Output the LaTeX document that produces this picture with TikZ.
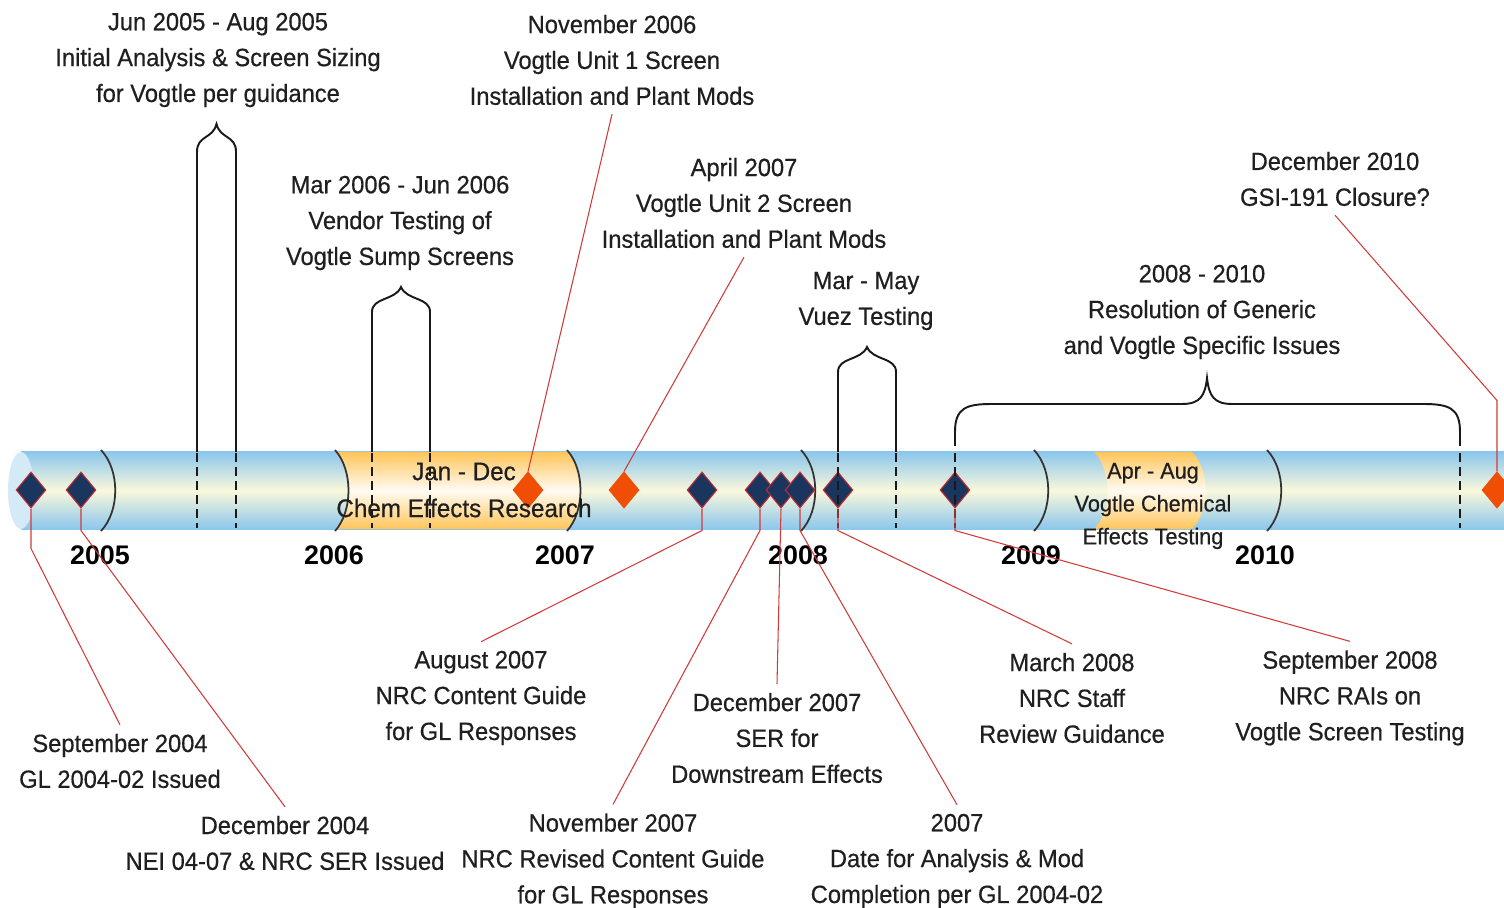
\documentclass[tikz,border=0pt]{standalone}
\usepackage{fontspec}
\setmainfont{Liberation Sans}
\newfontfamily\tagfont[FakeStretch=0.95,FakeBold=0.5]{Liberation Sans}
\usetikzlibrary{shapes.geometric}

\definecolor{barblue}{HTML}{8CC7EC}
\definecolor{barcream}{HTML}{FAF8DC}
\definecolor{barcap}{HTML}{D4EAF7}
\definecolor{chemorange}{HTML}{FFC55A}
\definecolor{chemwhite}{HTML}{FFFBF3}
\definecolor{navy}{HTML}{1B365E}
\definecolor{eventred}{HTML}{C8282E}
\definecolor{milestone}{HTML}{F04D05}
\definecolor{leadred}{HTML}{D23A3A}

\begin{document}
\begin{tikzpicture}[x=0.02cm,y=-0.02cm,
        event/.style={diamond,draw=eventred,fill=navy,line width=0.6pt,minimum width=17pt,minimum height=20.5pt,inner sep=0pt},
        goal/.style={event,fill=milestone,draw=milestone},
        lbl/.style={align=center,inner sep=5pt,text=black!88,font=\tagfont\fontsize{14.2}{20.4}\selectfont},
        yr/.style={font=\fontsize{15.3}{18}\selectfont\bfseries},
        lead/.style={draw=leadred,line width=0.6pt},
        bracket/.style={line width=1.1pt,black!90},
        cutline/.style={line width=0.9pt,black!90,dash pattern=on 5pt off 3pt},
        yrline/.style={line width=1pt,black!80}]

        \fill[white] (0,0) rectangle (1504,908);
        \useasboundingbox (0,0) rectangle (1504,908);

        \shade[top color=barblue,bottom color=barblue,middle color=barcream] (21,452) rectangle (1520,529);
        \fill[barcap] (21,490.5) ellipse [x radius=13, y radius=38.5];

        \shade[top color=chemorange,bottom color=chemorange,middle color=chemwhite] (335,452) .. controls (353,470) and (353,511) .. (335,529) -- (567,529) .. controls (585,511) and (585,470) .. (567,452) -- cycle;
        \shade[top color=chemorange,bottom color=chemorange,middle color=chemwhite] (1094,452) .. controls (1112,470) and (1112,511) .. (1094,529) -- (1192,529) .. controls (1210,511) and (1210,470) .. (1192,452) -- cycle;

        \draw[yrline] (101,450) .. controls (120,470) and (120,511) .. (101,531);
        \draw[yrline] (335,450) .. controls (353,470) and (353,511) .. (335,531);
        \draw[yrline] (567,450) .. controls (585,470) and (585,511) .. (567,531);
        \draw[yrline] (801,450) .. controls (820,470) and (820,511) .. (801,531);
        \draw[yrline] (1034,450) .. controls (1053,470) and (1053,511) .. (1034,531);
        \draw[yrline] (1267,450) .. controls (1286,470) and (1286,511) .. (1267,531);

        \draw[bracket] (197,452) -- (197,152) .. controls (197,135) and (212.6,139.4) .. (216.5,124) .. controls (220.4,139.4) and (236,135) .. (236,152) -- (236,452);
        \draw[bracket] (372,452) -- (372,312) .. controls (372,297) and (395.2,300.8) .. (401,287) .. controls (406.8,300.8) and (430,297) .. (430,312) -- (430,452);
        \draw[bracket] (838,452) -- (838,372) .. controls (838,357) and (861.2,360.8) .. (867,347) .. controls (872.8,360.8) and (896,357) .. (896,372) -- (896,452);
        \draw[bracket] (955,446) -- (955,432) .. controls (955,408) and (966,404) .. (992,404) -- (1182,404) .. controls (1200,404) and (1205,396) .. (1207,378) .. controls (1209,396) and (1214,404) .. (1232,404) -- (1423,404) .. controls (1449,404) and (1460,408) .. (1460,432) -- (1460,446);

        \node[event] (sep04) at (31,490) {};
        \node[event] (dec04) at (81,490) {};
        \node[goal] (nov06) at (528,490) {};
        \node[goal] (apr07) at (624,490) {};
        \node[event] (aug07) at (702,490) {};
        \node[event] (nov07) at (760,490) {};
        \node[event] (dec07) at (781,490) {};
        \node[event] (gl07) at (800,490) {};
        \node[event] (mar08) at (838,490) {};
        \node[event] (sep08) at (955,490) {};
        \node[goal] (dec10) at (1497,490) {};

        \draw[cutline] (197,453) -- (197,528);
        \draw[cutline] (236,453) -- (236,528);
        \draw[cutline] (372,453) -- (372,528);
        \draw[cutline] (430,453) -- (430,528);
        \draw[cutline] (838,453) -- (838,528);
        \draw[cutline] (896,453) -- (896,528);
        \draw[cutline] (955,453) -- (955,528);
        \draw[cutline] (1460,453) -- (1460,528);

        \node[yr] (y2005) at (100,555) {2005};
        \node[yr] (y2006) at (334,555) {2006};
        \node[yr] (y2007) at (565,555) {2007};
        \node[yr] (y2008) at (798,555) {2008};
        \node[yr] (y2009) at (1031,555) {2009};
        \node[yr] (y2010) at (1265,555) {2010};

        \node[lbl] (jun05txt) at (218,60) {Jun 2005 - Aug 2005\\Initial Analysis \& Screen Sizing\\for Vogtle per guidance};
        \node[lbl] (mar06txt) at (400,223) {Mar 2006 - Jun 2006\\Vendor Testing of\\Vogtle Sump Screens};
        \node[lbl] (nov06txt) at (612,60) {November 2006\\Vogtle Unit 1 Screen\\Installation and Plant Mods};
        \node[lbl] (apr07txt) at (744,203) {April 2007\\Vogtle Unit 2 Screen\\Installation and Plant Mods};
        \node[lbl] (vueztxt) at (866,301) {Mar - May\\Vuez Testing};
        \node[lbl] (restxt) at (1202,312) {2008 - 2010\\Resolution of Generic\\and Vogtle Specific Issues};
        \node[lbl] (dec10txt) at (1335,179) {December 2010\\GSI-191 Closure?};

        \node[lbl] (sep04txt) at (120,761) {September 2004\\GL 2004-02 Issued};
        \node[lbl] (dec04txt) at (285,843) {December 2004\\NEI 04-07 \& NRC SER Issued};
        \node[lbl] (aug07txt) at (481,698) {August 2007\\NRC Content Guide\\for GL Responses};
        \node[lbl] (nov07txt) at (613,861) {November 2007\\NRC Revised Content Guide\\for GL Responses};
        \node[lbl] (dec07txt) at (777,738) {December 2007\\SER for\\Downstream Effects};
        \node[lbl] (gl07txt) at (957,861) {2007\\Date for Analysis \& Mod\\Completion per GL 2004-02};
        \node[lbl] (mar08txt) at (1072,698) {March 2008\\NRC Staff\\Review Guidance};
        \node[lbl] (sep08txt) at (1350,698) {September 2008\\NRC RAIs on\\Vogtle Screen Testing};

        \draw[lead] (sep04.south) -- ++(0,40) -- (sep04txt.north);
        \draw[lead] (dec04.south) -- ++(0,22) -- (dec04txt.north);
        \draw[lead] (nov06.north) -- (nov06txt.south);
        \draw[lead] (apr07.north) -- (apr07txt.south);
        \draw[lead] (aug07.south) -- ++(0,22) -- (aug07txt.north);
        \draw[lead] (nov07.south) -- ++(0,22) -- (nov07txt.north);
        \draw[lead] (dec07.south) -- (dec07txt.north);
        \draw[lead] (gl07.south) -- ++(0,22) -- (gl07txt.north);
        \draw[lead] (mar08.south) -- ++(0,22) -- (mar08txt.north);
        \draw[lead] (sep08.south) -- ++(0,22) -- (sep08txt.north);
        \draw[lead] (dec10.north) -- ++(0,-71) -- (dec10txt.south);

        \node[lbl,font=\tagfont\fontsize{14.5}{21}\selectfont] (chemtxt) at (464,490) {Jan - Dec\\Chem Effects Research};
        \node[lbl,font=\tagfont\fontsize{13}{18.7}\selectfont] (vcttxt) at (1153,506) {Apr - Aug\\Vogtle Chemical\\Effects Testing};

\end{tikzpicture}
\end{document}
